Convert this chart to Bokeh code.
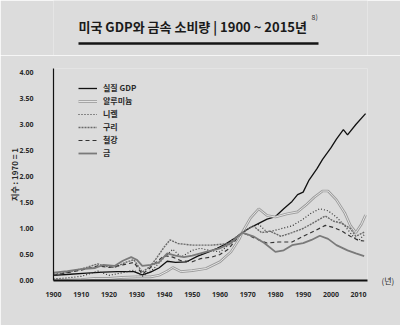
from bokeh.plotting import figure
from bokeh.layouts import column
from bokeh.models import (Range1d, FixedTicker, NumeralTickFormatter, Legend, LegendItem, LinearAxis)
from bokeh.core.properties import value
from bokeh.embed import file_html
from bokeh.resources import INLINE

BG = "#dcdcdc"
KR = "Noto Sans CJK KR"

title_text = "미국 GDP와 금속 소비량 | 1900 ~ 2015년"
title_note = "8)"
y_axis_title = "지수 : 1970 = 1"
x_unit = "(년)"
series_names = ["실질 GDP", "알루미늄", "니켈", "구리", "철강", "금"]

x_ticks = [1900, 1910, 1920, 1930, 1940, 1950, 1960, 1970, 1980, 1990, 2000, 2010]
y_ticks = [0, 0.5, 1.0, 1.5, 2.0, 2.5, 3.0, 3.5, 4.0]

gdp_years = [1900, 1906, 1912, 1918, 1923, 1929, 1932, 1935, 1938, 1941, 1944, 1948, 1952, 1956, 1959,
             1962, 1965, 1968, 1971, 1974, 1977, 1980, 1983, 1986, 1988, 1990, 1992, 1995, 1997, 2000,
             2002, 2004.5, 2006, 2009, 2012.5]
gdp_vals = [0.10, 0.12, 0.14, 0.16, 0.17, 0.17, 0.11, 0.16, 0.24, 0.37, 0.35, 0.36, 0.47, 0.55, 0.62,
            0.70, 0.80, 0.92, 1.02, 1.10, 1.18, 1.23, 1.38, 1.52, 1.65, 1.70, 1.92, 2.15, 2.33, 2.55,
            2.72, 2.90, 2.80, 3.00, 3.21]

al_years = [1900, 1905, 1910, 1915, 1920, 1925, 1930, 1935, 1938, 1941, 1943, 1946, 1950, 1955, 1960,
            1964, 1967, 1968, 1971, 1974, 1977, 1980, 1984, 1988, 1991, 1994, 1997, 1999, 2002, 2005,
            2007, 2009, 2011, 2012.5]
al_vals = [0.01, 0.01, 0.02, 0.04, 0.04, 0.06, 0.07, 0.07, 0.10, 0.18, 0.25, 0.17, 0.19, 0.23, 0.36,
           0.55, 0.80, 0.92, 1.20, 1.38, 1.25, 1.22, 1.28, 1.32, 1.45, 1.60, 1.72, 1.72, 1.55, 1.30,
           1.06, 0.92, 1.08, 1.26]

ni_years = [1900, 1905, 1910, 1916, 1920, 1925, 1929, 1932, 1936, 1940, 1943, 1946, 1950, 1953, 1956,
            1960, 1964, 1968, 1971, 1974, 1977, 1981, 1986, 1990, 1993, 1996, 1999, 2002, 2005, 2008,
            2010, 2012]
ni_vals = [0.03, 0.05, 0.08, 0.18, 0.10, 0.15, 0.20, 0.08, 0.22, 0.45, 0.60, 0.45, 0.58, 0.62, 0.58,
           0.55, 0.72, 0.92, 1.02, 1.08, 0.93, 0.98, 1.05, 1.18, 1.30, 1.38, 1.34, 1.22, 1.05, 0.85,
           0.77, 0.88]

cu_years = [1900, 1905, 1910, 1916, 1918, 1922, 1926, 1929, 1932, 1935, 1937, 1940, 1942, 1945, 1950,
            1957, 1963, 1968, 1972, 1975, 1978, 1982, 1986, 1990, 1994, 1998, 2001, 2004, 2007, 2009,
            2012]
cu_vals = [0.12, 0.16, 0.22, 0.32, 0.28, 0.25, 0.35, 0.40, 0.16, 0.28, 0.42, 0.65, 0.78, 0.71, 0.68,
           0.68, 0.71, 0.92, 1.05, 0.92, 0.95, 0.85, 0.92, 1.00, 1.12, 1.24, 1.14, 1.10, 1.00, 0.85,
           0.93]

st_years = [1900, 1905, 1910, 1916, 1920, 1925, 1929, 1932, 1935, 1937, 1940, 1943, 1946, 1950, 1953,
            1957, 1960, 1963, 1966, 1968, 1970, 1973, 1977, 1981, 1986, 1990, 1994, 1998, 2001, 2004,
            2007, 2010, 2012]
st_vals = [0.10, 0.15, 0.20, 0.28, 0.25, 0.30, 0.35, 0.12, 0.25, 0.35, 0.48, 0.45, 0.38, 0.36, 0.42,
           0.45, 0.50, 0.60, 0.80, 0.92, 0.88, 0.80, 0.72, 0.74, 0.74, 0.85, 0.95, 1.06, 1.02, 0.95,
           0.85, 0.77, 0.76]

au_years = [1900, 1905, 1910, 1915, 1918, 1922, 1925, 1928, 1930, 1932, 1935, 1938, 1941, 1944, 1947,
            1950, 1955, 1960, 1964, 1968, 1972, 1976, 1980, 1983, 1986, 1990, 1993, 1996, 1999, 2002,
            2006, 2009, 2012]
au_vals = [0.15, 0.18, 0.22, 0.24, 0.30, 0.28, 0.38, 0.45, 0.40, 0.28, 0.30, 0.35, 0.52, 0.48, 0.45,
           0.48, 0.55, 0.62, 0.72, 0.92, 0.85, 0.72, 0.55, 0.58, 0.68, 0.72, 0.78, 0.86, 0.80, 0.68,
           0.58, 0.52, 0.47]

# ---------- title strip (canvas-pixel coordinates) ----------
tf = figure(width=400, height=55, x_range=Range1d(53, 367), y_range=Range1d(55, 0),
            toolbar_location=None, output_backend="svg",
            min_border_left=53, min_border_right=33, min_border_top=0, min_border_bottom=0)
tf.axis.visible = False
tf.grid.visible = False
tf.outline_line_color = None
tf.background_fill_color = BG
tf.border_fill_color = BG
tf.text(x=[78], y=[26], text=[title_text], text_font=value(KR), text_font_size="13px",
        text_font_style="bold", text_baseline="middle", text_color="#1a1a1a")
tf.text(x=[311], y=[16], text=[title_note], text_font=value(KR), text_font_size="7px",
        text_baseline="middle", text_color="#333333")
tf.line(x=[78, 318], y=[43, 43], line_width=2.5, line_color="#151515")

# ---------- main chart ----------
p = figure(width=400, height=270, x_range=Range1d(1900, 2013.2), y_range=Range1d(0, 4.077),
           toolbar_location=None, output_backend="svg",
           min_border_left=53, min_border_right=33, min_border_top=13, min_border_bottom=45)
p.background_fill_color = BG
p.border_fill_color = BG
p.outline_line_color = None
p.grid.visible = False

p.xaxis.ticker = FixedTicker(ticks=x_ticks)
p.yaxis.ticker = FixedTicker(ticks=y_ticks)
p.yaxis.formatter = NumeralTickFormatter(format="0.00")
for ax in (p.xaxis[0], p.yaxis[0]):
    ax.major_tick_line_color = None
    ax.minor_tick_line_color = None
    ax.axis_line_color = "#111111"
    ax.major_label_text_font = "Noto Sans"
    ax.major_label_text_font_size = "7px"
    ax.major_label_text_font_style = "bold"
    ax.major_label_text_color = "#2a2a2a"
p.xaxis.axis_line_width = 1.8
p.yaxis.axis_line_width = 1.2
p.xaxis.major_label_standoff = 5
p.yaxis.major_label_standoff = 14
p.yaxis.axis_label = y_axis_title
p.yaxis.axis_label_text_font = KR
p.yaxis.axis_label_text_font_size = "8px"
p.yaxis.axis_label_text_font_style = "bold"
p.yaxis.axis_label_text_color = "#2a2a2a"
p.yaxis.axis_label_standoff = -3

# unit "(년)" shown at the right end of the x-axis
unit_axis = LinearAxis(ticker=FixedTicker(ticks=[0]), major_label_overrides={0: x_unit},
                       axis_line_color=None, major_tick_line_color=None, minor_tick_line_color=None,
                       major_label_standoff=8, major_label_text_font=KR,
                       major_label_text_font_size="8px", major_label_text_color="#2a2a2a")
p.add_layout(unit_axis, "right")

r_gdp = p.line(gdp_years, gdp_vals, line_color="#111111", line_width=1.3)
r_al_o = p.line(al_years, al_vals, line_color="#9a9a9a", line_width=2.6)
r_al_i = p.line(al_years, al_vals, line_color="#ececec", line_width=0.9)
r_ni = p.line(ni_years, ni_vals, line_color="#333333", line_width=1.2, line_dash="1 2")
r_cu = p.line(cu_years, cu_vals, line_color="#6a6a6a", line_width=1.4, line_dash="2 1")
r_st = p.line(st_years, st_vals, line_color="#333333", line_width=1.2, line_dash="4 3")
r_au = p.line(au_years, au_vals, line_color="#7a7a7a", line_width=1.8)

items = [
    LegendItem(label=series_names[0], renderers=[r_gdp]),
    LegendItem(label=series_names[1], renderers=[r_al_o, r_al_i]),
    LegendItem(label=series_names[2], renderers=[r_ni]),
    LegendItem(label=series_names[3], renderers=[r_cu]),
    LegendItem(label=series_names[4], renderers=[r_st]),
    LegendItem(label=series_names[5], renderers=[r_au]),
]
legend = Legend(items=items, location=(25, 121), padding=0, spacing=0, margin=0,
                glyph_width=19, glyph_height=12, label_height=13, label_standoff=6,
                label_text_font=KR, label_text_font_size="8px", label_text_font_style="bold",
                label_text_color="#2a2a2a", background_fill_alpha=0, border_line_color=None)
p.add_layout(legend)

layout = column(tf, p, spacing=0)
open("out.html", "w").write(file_html(layout, INLINE))
